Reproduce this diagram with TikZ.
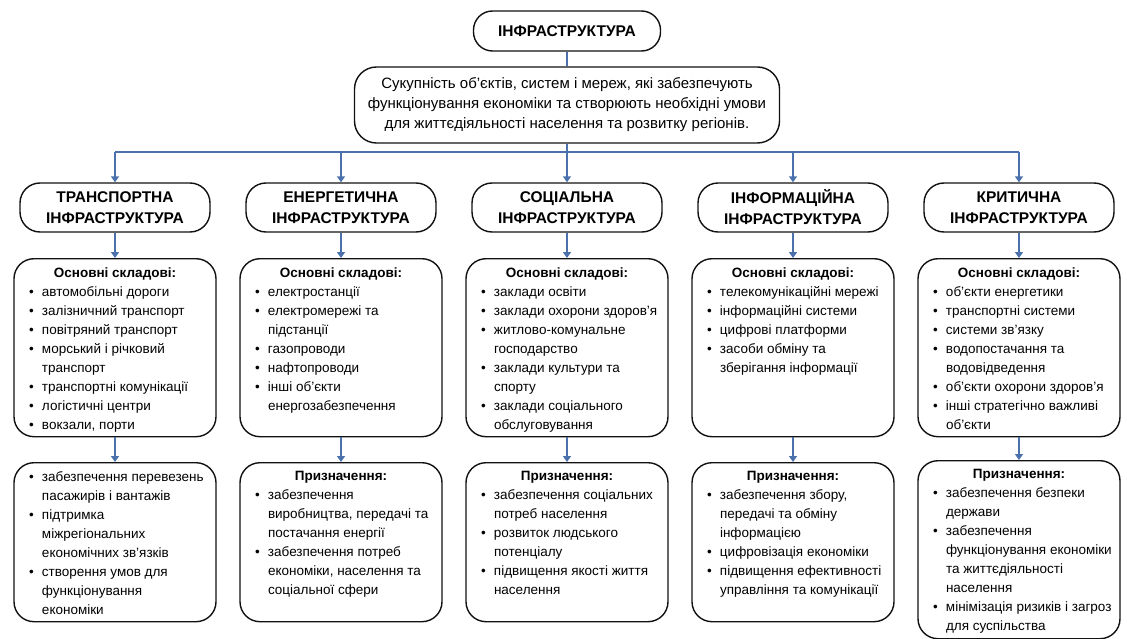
\documentclass[tikz,border=0pt]{standalone}
\usepackage{fontspec}
\setmainfont{Liberation Sans}
\usetikzlibrary{arrows.meta}
\definecolor{nInk}{HTML}{111111}
\definecolor{nLink}{HTML}{4A71AC}
% bullet item with hanging indent
\newcommand{\itm}[1]{\par\hangindent=20pt\hangafter=1\noindent\hbox to 20pt{\hskip7pt\textbullet\hss}#1}
\newcommand{\ttl}[1]{{\centering\bfseries #1\par}}
\newcommand{\pane}[2]{\begin{minipage}[t][#1][t]{186pt}\fontsize{13.5}{19}\selectfont
  \raggedright\hyphenpenalty=10000 \let\\\newline #2\end{minipage}}

\begin{document}
\begin{tikzpicture}[x=1pt, y=1pt,
    title/.style={draw=nInk, line width=1.4pt, rounded corners=19pt, minimum width=187pt,
      minimum height=40pt, font=\fontsize{15.5}{18}\selectfont\bfseries},
    defbox/.style={draw=nInk, line width=1.4pt, rounded corners=22pt, minimum width=425pt,
      minimum height=76pt, align=center, font=\fontsize{15}{20}\selectfont},
    head/.style={draw=nInk, line width=1.4pt, rounded corners=20pt, minimum width=190pt,
      minimum height=49pt, align=center, font=\fontsize{15.5}{21}\selectfont\bfseries},
    panel/.style={draw=nInk, line width=1.4pt, rounded corners=20pt, inner xsep=8pt,
      inner ysep=9pt, anchor=north},
    link/.style={nLink, line width=1.5pt},
    arr/.style={link, -{Triangle[width=8pt,length=6pt]}}]
  \useasboundingbox (0,0) rectangle (1127,-639);

  \node[title] (top) at (567,-31) {ІНФРАСТРУКТУРА};
  \node[defbox] (def) at (567,-105)
    {Сукупність об’єктів, систем і мереж, які забезпечують\\
     функціонування економіки та створюють необхідні умови\\
     для життєдіяльності населення та розвитку регіонів.};
  \coordinate (bus) at (567,-152);

  % column headers
  \foreach \i/\x/\t in {1/115/ТРАНСПОРТНА, 2/341/ЕНЕРГЕТИЧНА, 3/567/СОЦІАЛЬНА,
                        4/793/ІНФОРМАЦІЙНА, 5/1019/КРИТИЧНА} {
    \node[head] (h\i) at (\x,-207.5) {\t\\ІНФРАСТРУКТУРА};
  }

  % main components
  \node[panel] (c1) at (115,-258) {\pane{160pt}{\ttl{Основні складові:}
    \itm{автомобільні дороги}
    \itm{залізничний транспорт}
    \itm{повітряний транспорт}
    \itm{морський і річковий\\транспорт}
    \itm{транспортні комунікації}
    \itm{логістичні центри}
    \itm{вокзали, порти}}};
  \node[panel] (c2) at (341,-258) {\pane{160pt}{\ttl{Основні складові:}
    \itm{електростанції}
    \itm{електромережі та\\підстанції}
    \itm{газопроводи}
    \itm{нафтопроводи}
    \itm{інші об’єкти\\енергозабезпечення}}};
  \node[panel] (c3) at (567,-258) {\pane{160pt}{\ttl{Основні складові:}
    \itm{заклади освіти}
    \itm{заклади охорони здоров'я}
    \itm{житлово-комунальне\\господарство}
    \itm{заклади культури та\\спорту}
    \itm{заклади соціального\\обслуговування}}};
  \node[panel] (c4) at (793,-258) {\pane{160pt}{\ttl{Основні складові:}
    \itm{телекомунікаційні мережі}
    \itm{інформаційні системи}
    \itm{цифрові платформи}
    \itm{засоби обміну та\\зберігання інформації}}};
  \node[panel] (c5) at (1019,-258) {\pane{160pt}{\ttl{Основні складові:}
    \itm{об’єкти енергетики}
    \itm{транспортні системи}
    \itm{системи зв’язку}
    \itm{водопостачання та\\водовідведення}
    \itm{об’єкти охорони здоров’я}
    \itm{інші стратегічно важливі\\об’єкти}}};

  % purpose
  \node[panel] (p1) at (115,-462) {\pane{141pt}{
    \itm{\mbox{забезпечення перевезень}\\пасажирів і вантажів}
    \itm{підтримка\\міжрегіональних\\економічних зв'язків}
    \itm{створення умов для\\функціонування\\економіки}}};
  \node[panel] (p2) at (341,-462) {\pane{141pt}{\ttl{Призначення:}
    \itm{забезпечення\\виробництва, передачі та\\постачання енергії}
    \itm{забезпечення потреб\\економіки, населення та\\соціальної сфери}}};
  \node[panel] (p3) at (567,-462) {\pane{141pt}{\ttl{Призначення:}
    \itm{забезпечення соціальних\\потреб населення}
    \itm{розвиток людського\\потенціалу}
    \itm{підвищення якості життя\\населення}}};
  \node[panel] (p4) at (793,-462) {\pane{141pt}{\ttl{Призначення:}
    \itm{забезпечення збору,\\передачі та обміну\\інформацією}
    \itm{цифровізація економіки}
    \itm{підвищення ефективності\\управління та комунікації}}};
  \node[panel] (p5) at (1019,-460) {\pane{160pt}{\ttl{Призначення:}
    \itm{забезпечення безпеки\\держави}
    \itm{забезпечення\\функціонування економіки\\та життєдіяльності\\населення}
    \itm{мінімізація ризиків і загроз\\для суспільства}}};

  % connectors
  \draw[link] (top) -- (def);
  \draw[link] (def.south) -- (bus);
  \draw[link] (h1.north |- bus) -- (h5.north |- bus);
  \foreach \i in {1,...,5} {
    \draw[arr] (h\i.north |- bus) -- (h\i.north);
    \draw[arr] (h\i) -- (c\i);
    \draw[arr] (c\i) -- (p\i);
  }
\end{tikzpicture}
\end{document}
